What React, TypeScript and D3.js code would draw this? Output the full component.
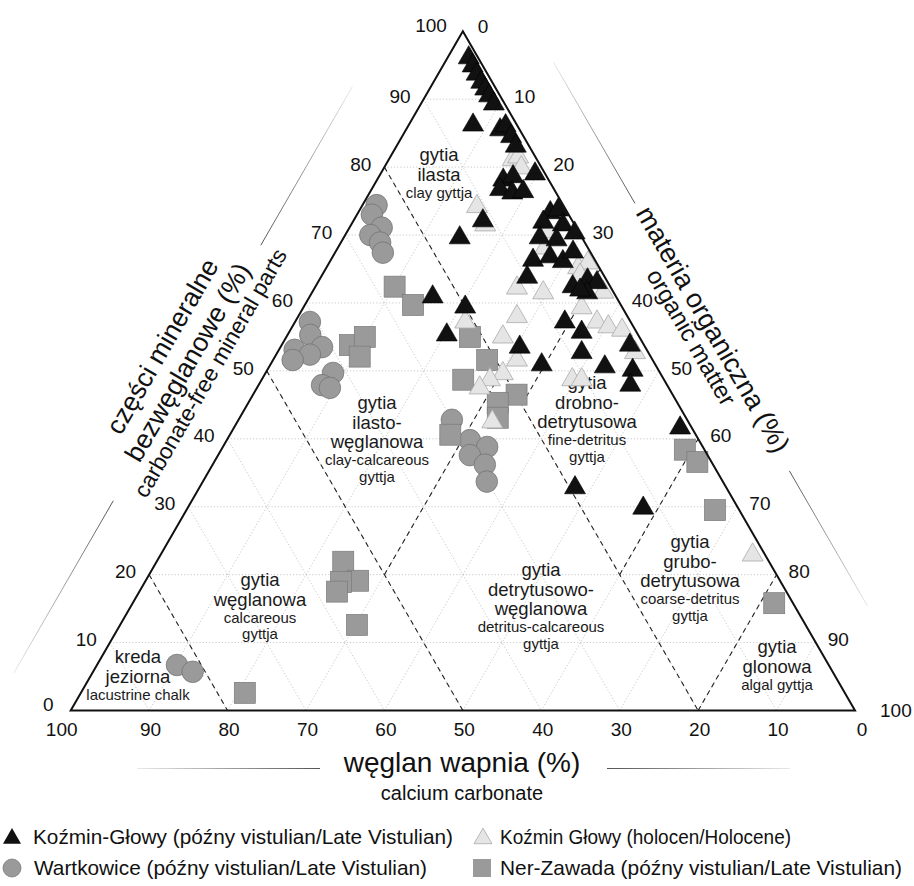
import React from 'react';
import * as d3 from 'd3';

// ---------- DATA (carbonate %, mineral %, organic %) ----------
const tickValues = [0, 10, 20, 30, 40, 50, 60, 70, 80, 90, 100];

const kozminLateVistulian: [number, number, number][] = [
  [1.2, 96.1, 2.7], [1.3, 94.9, 3.8], [1.4, 93.7, 4.9], [1.4, 92.5, 6.1], [1.4, 91.5, 7.1],
  [1.4, 90.5, 8.1], [1.4, 89.3, 9.3], [5.6, 86.2, 8.2], [2.5, 85.5, 12.0], [1.5, 86.1, 12.4],
  [1.6, 84.5, 13.9], [1.7, 83.1, 15.2], [1.3, 79.0, 19.7], [5.8, 78.1, 16.1], [4.3, 78.6, 17.1],
  [6.9, 76.7, 16.4], [5.6, 76.2, 18.2], [4.1, 76.4, 19.5], [11.4, 72.1, 16.5], [15.6, 69.6, 14.8],
  [2.2, 73.3, 24.5], [1.0, 73.7, 25.3], [3.8, 71.9, 24.3], [1.5, 71.5, 27.0], [0.6, 70.3, 29.1],
  [5.4, 69.6, 25.0], [3.4, 69.3, 27.3], [7.9, 66.3, 25.8], [5.5, 66.8, 27.7], [4.2, 66.1, 29.7],
  [2.2, 67.5, 30.3], [9.9, 63.8, 26.3], [4.8, 62.4, 32.8], [2.4, 63.4, 34.2], [1.4, 63.0, 35.6],
  [3.4, 61.5, 35.1], [4.1, 61.9, 34.0], [23.4, 60.9, 15.7], [20.0, 59.4, 20.6], [24.4, 55.3, 20.3],
  [16.0, 53.5, 30.5], [14.5, 50.9, 34.6], [8.4, 57.2, 34.4], [7.0, 55.7, 37.3], [8.5, 52.7, 38.8],
  [6.6, 50.6, 42.8], [1.8, 53.8, 44.4], [3.3, 50.1, 46.6], [4.7, 47.9, 47.4], [1.5, 41.6, 56.9],
  [19.3, 32.8, 47.9], [12.1, 29.8, 58.1],
];

const kozminHolocene: [number, number, number][] = [
  [3.1, 81.1, 15.8], [2.2, 81.5, 16.3], [2.6, 79.9, 17.5], [11.1, 74.2, 14.7], [11.4, 71.5, 17.1],
  [3.9, 70.5, 25.6], [5.5, 68.1, 26.4], [2.7, 65.2, 32.1], [1.1, 65.9, 33.0], [3.0, 64.1, 32.9],
  [9.0, 61.5, 29.5], [12.0, 62.2, 25.8], [14.1, 58.0, 27.9], [21.1, 57.2, 21.7], [17.4, 55.0, 27.6],
  [17.3, 51.6, 31.1], [20.1, 49.6, 30.3], [22.2, 48.7, 29.1], [24.1, 47.5, 28.4], [25.0, 42.5, 32.5],
  [5.2, 59.3, 35.5], [4.3, 57.2, 38.5], [3.2, 56.5, 40.3], [1.7, 56.0, 42.3], [1.7, 52.7, 45.6],
  [11.7, 48.7, 39.6], [10.5, 48.7, 40.8], [1.6, 22.9, 75.5], [1.3, 61.6, 37.1],
];

const wartkowice: [number, number, number][] = [
  [23.8, 74.4, 1.8], [25.1, 73.0, 1.9], [24.8, 71.1, 4.1], [26.8, 70.0, 3.2], [26.1, 68.9, 5.0],
  [26.5, 67.4, 6.1], [40.9, 57.2, 1.9], [41.8, 55.3, 2.9], [41.2, 53.5, 5.3], [44.9, 53.1, 2.0],
  [43.3, 52.4, 4.3], [45.9, 51.6, 2.5], [41.7, 49.7, 8.6], [44.0, 47.9, 8.1], [43.2, 47.5, 9.3],
  [30.0, 42.8, 27.2], [29.2, 39.8, 31.0], [27.5, 38.8, 33.7], [30.3, 37.6, 32.1], [29.1, 36.2, 34.7],
  [30.1, 33.7, 36.2], [83.1, 6.7, 10.2], [81.6, 5.7, 12.7],
];

const nerZawada: [number, number, number][] = [
  [27.5, 62.4, 10.1], [26.5, 59.7, 13.8], [37.5, 53.8, 8.7], [35.0, 55.0, 10.0], [37.1, 52.1, 10.8],
  [21.6, 55.0, 23.4], [21.1, 51.6, 27.3], [25.6, 48.7, 25.7], [19.9, 46.5, 33.6], [22.9, 45.3, 31.8],
  [24.0, 43.1, 32.9], [31.3, 40.6, 28.1], [2.5, 38.4, 59.1], [1.8, 36.6, 61.6], [3.1, 29.5, 67.4],
  [2.4, 15.8, 81.8], [54.3, 21.9, 23.8], [53.8, 19.1, 27.1], [56.1, 18.9, 25.0], [57.3, 17.5, 25.2],
  [57.2, 12.6, 30.2], [76.5, 2.6, 20.9],
];

const legendLabels = [
  'Koźmin-Głowy (późny vistulian/Late Vistulian)',
  'Koźmin Głowy (holocen/Holocene)',
  'Wartkowice (późny vistulian/Late Vistulian)',
  'Ner-Zawada (późny vistulian/Late Vistulian)',
];

// zone boundaries: [from c,m,o] -> [to c,m,o]
const zoneBoundaries: [[number, number, number], [number, number, number]][] = [
  [[80, 20, 0], [80, 0, 20]],
  [[50, 50, 0], [50, 0, 50]],
  [[20, 80, 0], [20, 0, 80]],
  [[50, 20, 30], [20, 50, 30]],
  [[20, 45, 35], [0, 65, 35]],
  [[20, 20, 60], [0, 40, 60]],
  [[20, 0, 80], [0, 20, 80]],
];

const zoneNames: { big: string[]; small: string[] }[] = [
  { big: ['gytia', 'ilasta'], small: ['clay gyttja'] },
  { big: ['gytia', 'ilasto-', 'węglanowa'], small: ['clay-calcareous', 'gyttja'] },
  { big: ['gytia', 'drobno-', 'detrytusowa'], small: ['fine-detritus', 'gyttja'] },
  { big: ['gytia', 'detrytusowo-', 'węglanowa'], small: ['detritus-calcareous', 'gyttja'] },
  { big: ['gytia', 'węglanowa'], small: ['calcareous', 'gyttja'] },
  { big: ['kreda', 'jeziorna'], small: ['lacustrine chalk'] },
  { big: ['gytia', 'grubo-', 'detrytusowa'], small: ['coarse-detritus', 'gyttja'] },
  { big: ['gytia', 'glonowa'], small: ['algal gyttja'] },
];

// ---------- LAYOUT ----------
const W = 914, H = 886;
const X0 = 70.7, Y0 = 710.5, SIDE = 784.3;
const S3 = Math.sqrt(3) / 2;
const FONT = '"Liberation Sans", Arial, Helvetica, sans-serif';
const zoneAnchors: [number, number][] = [
  [439, 155], [377, 403], [587, 383], [541, 570], [260, 580], [138, 657], [690, 542], [777, 647],
];
const legendLayout = [
  { mx: 12, tx: 33, y: 837, len: 420 },
  { mx: 483, tx: 500, y: 837, len: 291 },
  { mx: 12, tx: 34, y: 868, len: 393 },
  { mx: 482, tx: 500, y: 868, len: 402 },
];

const side = d3.scaleLinear().domain([0, 100]).range([0, SIDE]);

function pt(c: number, m: number, o: number): [number, number] {
  const s = c + m + o;
  const mm = (m / s) * 100;
  const oo = (o / s) * 100;
  return [X0 + side(oo) + side(mm) / 2, Y0 - side(mm) * S3];
}

function triPath(cx: number, cy: number, w: number) {
  const h = w * S3;
  return `M${cx},${cy - (2 * h) / 3}L${cx + w / 2},${cy + h / 3}L${cx - w / 2},${cy + h / 3}Z`;
}

const line = d3.line();

export default function App() {
  const top = pt(0, 100, 0);
  const bl = pt(100, 0, 0);
  const br = pt(0, 0, 100);

  // grid
  const grid: [number, number][][] = [];
  for (const k of tickValues.slice(1, -1)) {
    grid.push([pt(100 - k, k, 0), pt(0, k, 100 - k)]);
    grid.push([pt(k, 100 - k, 0), pt(k, 0, 100 - k)]);
    grid.push([pt(100 - k, 0, k), pt(0, 100 - k, k)]);
  }

  const uL: [number, number] = [0.5, -S3];
  const nL: [number, number] = [-S3, -0.5];
  const uR: [number, number] = [0.5, S3];
  const nR: [number, number] = [S3, -0.5];
  const mL = pt(50, 50, 0);
  const mR = pt(0, 50, 50);
  const off = (p: [number, number], u: [number, number], a: number, n: [number, number], b: number): [number, number] => [
    p[0] + u[0] * a + n[0] * b,
    p[1] + u[1] * a + n[1] * b,
  ];

  const decoLines: { a: [number, number]; b: [number, number]; id: string }[] = [
    { a: [137, 768.5], b: [320, 768.5], id: 'g1' },
    { a: [790, 768.5], b: [607, 768.5], id: 'g2' },
    { a: off(bl, uL, 4, nL, 68), b: off(bl, uL, 203, nL, 68), id: 'g3' },
    { a: off(bl, uL, 681, nL, 68), b: off(bl, uL, 498, nL, 68), id: 'g4' },
    { a: off(top, uR, 72, nR, 63), b: off(top, uR, 235, nR, 63), id: 'g5' },
    { a: off(top, uR, 700, nR, 63), b: off(top, uR, 544, nR, 63), id: 'g6' },
  ];

  const leftTitle = [
    { t: 'części mineralne', s: 26.5, p: off(mL, uL, -31, nL, 103) },
    { t: 'bezwęglanowe (%)', s: 26.5, p: off(mL, uL, -32, nL, 73) },
    { t: 'carbonate-free mineral parts', s: 22.5, p: off(mL, uL, -30, nL, 48) },
  ];
  const rightTitle = [
    { t: 'materia organiczna (%)', s: 27, p: off(mR, uR, -9, nR, 68) },
    { t: 'organic matter', s: 24, p: off(mR, uR, -13, nR, 45) },
  ];

  return (
    <svg width={W} height={H} style={{ position: 'absolute', left: 0, top: 0, background: '#fff' }} fontFamily={FONT}>
      <defs>
        {decoLines.map((d) => (
          <linearGradient key={d.id} id={d.id} gradientUnits="userSpaceOnUse" x1={d.a[0]} y1={d.a[1]} x2={d.b[0]} y2={d.b[1]}>
            <stop offset="0" stopColor="#e8e8e8" />
            <stop offset="1" stopColor="#555" />
          </linearGradient>
        ))}
      </defs>
      <rect width={W} height={H} fill="#fff" />

      {/* grid */}
      <g stroke="#bdbdbd" strokeWidth={0.8} strokeDasharray="1.2 2" fill="none">
        {grid.map((g, i) => (
          <path key={i} d={line(g) as string} />
        ))}
      </g>

      {/* zone boundaries */}
      <g stroke="#222" strokeWidth={1.1} strokeDasharray="5 4" fill="none">
        {zoneBoundaries.map((b, i) => (
          <path key={i} d={line([pt(...b[0]), pt(...b[1])]) as string} />
        ))}
      </g>

      {/* decorative lines */}
      {decoLines.map((d) => (
        <line key={d.id} x1={d.a[0]} y1={d.a[1]} x2={d.b[0]} y2={d.b[1]} stroke={`url(#${d.id})`} strokeWidth={1} />
      ))}

      {/* zone labels */}
      <g fill="#1a1a1a" textAnchor="middle">
        {zoneNames.map((z, i) => {
          const [x, y] = zoneAnchors[i];
          const items: { t: string; y: number; s: number }[] = [];
          let cy = y;
          z.big.forEach((t, j) => {
            if (j > 0) cy += 19.5;
            items.push({ t, y: cy, s: 18.5 });
          });
          z.small.forEach((t, j) => {
            cy += j === 0 ? 18 : 16.5;
            items.push({ t, y: cy, s: 15 });
          });
          return items.map((it, k) => (
            <text key={`${i}-${k}`} x={x} y={it.y} dy="0.35em" fontSize={it.s}>
              {it.t}
            </text>
          ));
        })}
      </g>

      {/* markers */}
      <g>
        {wartkowice.map((d, i) => {
          const [x, y] = pt(...d);
          return <circle key={i} cx={x} cy={y} r={10.8} fill="#9a9a9a" stroke="#6e6e6e" strokeWidth={0.7} />;
        })}
      </g>
      <g>
        {nerZawada.map((d, i) => {
          const [x, y] = pt(...d);
          return <rect key={i} x={x - 10.5} y={y - 10.5} width={21} height={21} fill="#9a9a9a" stroke="#7a7a7a" strokeWidth={0.7} />;
        })}
      </g>
      <g>
        {kozminHolocene.map((d, i) => {
          const [x, y] = pt(...d);
          return <path key={i} d={triPath(x, y, 21)} fill="#e5e5e5" stroke="#a9a9a9" strokeWidth={0.8} />;
        })}
      </g>
      <g>
        {kozminLateVistulian.map((d, i) => {
          const [x, y] = pt(...d);
          return <path key={i} d={triPath(x, y, 21)} fill="#111" stroke="#000" strokeWidth={0.6} />;
        })}
      </g>

      {/* triangle frame */}
      <path d={line([bl, top, br, bl]) + 'Z'} fill="none" stroke="#111" strokeWidth={2} strokeLinejoin="miter" />

      {/* tick labels */}
      <g fontSize={19} fill="#111">
        {tickValues.map((v) => {
          const [x, y] = pt(v, 0, 100 - v);
          const dx = v === 100 ? -9 : v === 0 ? 7 : 1.5;
          return (
            <text key={`b${v}`} x={x + dx} y={y + 18.5} dy="0.35em" textAnchor="middle">
              {v}
            </text>
          );
        })}
        {tickValues.map((v) => {
          const [x, y] = pt(100 - v, v, 0);
          const dx = v === 0 ? -17 : v === 100 ? -16 : -13;
          const dy = v === 0 ? -6 : v === 100 ? -6 : -3;
          return (
            <text key={`l${v}`} x={x + dx} y={y + dy} dy="0.35em" textAnchor="end">
              {v}
            </text>
          );
        })}
        {tickValues.map((v) => {
          const [x, y] = pt(0, 100 - v, v);
          const dx = v === 100 ? 25 : v === 0 ? 15 : 12;
          const dy = v === 0 ? -5 : v === 100 ? 0 : -3;
          return (
            <text key={`r${v}`} x={x + dx} y={y + dy} dy="0.35em" textAnchor="start">
              {v}
            </text>
          );
        })}
      </g>

      {/* axis titles */}
      <g fill="#111" textAnchor="middle">
        {leftTitle.map((t, i) => (
          <text key={i} transform={`translate(${t.p[0]},${t.p[1]}) rotate(-60)`} dy="0.35em" fontSize={t.s}>
            {t.t}
          </text>
        ))}
        {rightTitle.map((t, i) => (
          <text key={i} transform={`translate(${t.p[0]},${t.p[1]}) rotate(60)`} dy="0.35em" fontSize={t.s}>
            {t.t}
          </text>
        ))}
        <text x={462} y={772} fontSize={28}>
          węglan wapnia (%)
        </text>
        <text x={462} y={800} fontSize={20}>
          calcium carbonate
        </text>
      </g>

      {/* legend */}
      <g fontSize={21} fill="#111">
        <path d={triPath(legendLayout[0].mx, legendLayout[0].y + 1.5, 18)} fill="#111" />
        <path d={triPath(legendLayout[1].mx, legendLayout[1].y + 1.5, 18)} fill="#e5e5e5" stroke="#a9a9a9" strokeWidth={0.8} />
        <circle cx={legendLayout[2].mx} cy={legendLayout[2].y} r={9} fill="#9a9a9a" stroke="#6e6e6e" strokeWidth={0.7} />
        <rect x={legendLayout[3].mx - 9} y={legendLayout[3].y - 9} width={18} height={18} fill="#9a9a9a" />
        {legendLabels.map((t, i) => (
          <text
            key={i}
            x={legendLayout[i].tx}
            y={legendLayout[i].y}
            dy="0.35em"
            textLength={legendLayout[i].len}
            lengthAdjust="spacingAndGlyphs"
          >
            {t}
          </text>
        ))}
      </g>
    </svg>
  );
}
